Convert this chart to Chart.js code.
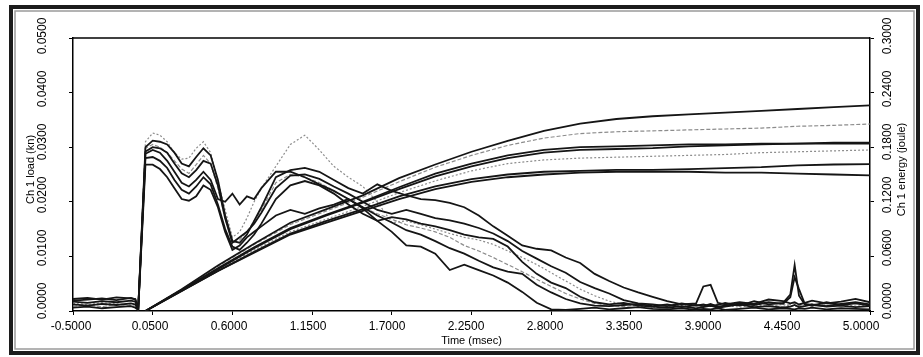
<!DOCTYPE html>
<html>
<head>
<meta charset="utf-8">
<title>Ch 1 load / energy</title>
<script src="https://cdn.jsdelivr.net/npm/chart.js@4.4.1/dist/chart.umd.min.js"></script>
<style>
    html, body { margin: 0; padding: 0; background: #fff; }
    #contenedor { width: 923px; height: 357px; }
</style>
</head>
<body>
<div id="contenedor"><canvas id="graficoImpacto" width="923" height="357"></canvas></div>
<script>
// Base de tiempo del canal de carga (msec)
const tiempoCarga = [
    -0.5, -0.4, -0.3, -0.2, -0.1, -0.07, -0.05, 0.0,
    0.05, 0.1, 0.15, 0.2, 0.25, 0.3, 0.35, 0.4, 0.45, 0.5, 0.55, 0.6, 0.65, 0.7, 0.75, 0.8,
    0.9, 1.0, 1.1, 1.2, 1.3, 1.4, 1.5, 1.6, 1.7, 1.8, 1.9, 2.0,
    2.1, 2.2, 2.3, 2.4, 2.5, 2.6, 2.7, 2.8, 2.9, 3.0, 3.1, 3.2, 3.3, 3.4, 3.5,
    3.6, 3.7, 3.8, 3.85, 3.9, 3.95, 4.0, 4.1, 4.2, 4.3, 4.4, 4.45, 4.48, 4.51, 4.55, 4.6, 4.7, 4.8, 4.9, 5.0
];

// Carga (kn) de cada ensayo
const carga1 = [
    0.0022, 0.0024, 0.0021, 0.0025, 0.0023, 0.0022, 0.0004, 0.0300,
    0.0312, 0.0310, 0.0305, 0.0290, 0.0270, 0.0265, 0.0282, 0.0298, 0.0285, 0.0240, 0.0175, 0.0128, 0.0125, 0.0140, 0.0165, 0.0190,
    0.0245, 0.0258, 0.0262, 0.0255, 0.0240, 0.0225, 0.0215, 0.0232, 0.0220, 0.0212, 0.0205, 0.0203,
    0.0198, 0.0190, 0.0175, 0.0155, 0.0138, 0.0120, 0.0114, 0.0111, 0.0098, 0.0088, 0.0068, 0.0055, 0.0043, 0.0034, 0.0026,
    0.0018, 0.0012, 0.0014, 0.0045, 0.0048, 0.0015, 0.0012, 0.0016, 0.0013, 0.0021, 0.0018, 0.0014, 0.0016, 0.0012, 0.0015, 0.0019, 0.0014, 0.0017, 0.0022, 0.0016
];
const carga2 = [
    0.0019, 0.0021, 0.0023, 0.0020, 0.0024, 0.0021, 0.0003, 0.0292,
    0.0300, 0.0298, 0.0290, 0.0270, 0.0252, 0.0245, 0.0258, 0.0275, 0.0270, 0.0230, 0.0170, 0.0125, 0.0135, 0.0145, 0.0160, 0.0180,
    0.0225, 0.0248, 0.0250, 0.0242, 0.0228, 0.0215, 0.0200, 0.0185, 0.0178, 0.0185, 0.0178, 0.0170,
    0.0166, 0.0160, 0.0152, 0.0142, 0.0128, 0.0110, 0.0096, 0.0082, 0.0070, 0.0053, 0.0042, 0.0032, 0.0020, 0.0014, 0.0012,
    0.0009, 0.0014, 0.0010, 0.0012, 0.0009, 0.0011, 0.0015, 0.0010, 0.0018, 0.0012, 0.0015, 0.0030, 0.0084, 0.0028, 0.0012, 0.0010, 0.0016, 0.0011, 0.0014, 0.0010
];
const carga3 = [
    0.0012, 0.0010, 0.0013, 0.0011, 0.0014, 0.0012, 0.0002, 0.0280,
    0.0282, 0.0275, 0.0262, 0.0240, 0.0222, 0.0215, 0.0228, 0.0245, 0.0232, 0.0195, 0.0150, 0.0118, 0.0112, 0.0125, 0.0140, 0.0160,
    0.0205, 0.0230, 0.0238, 0.0230, 0.0215, 0.0195, 0.0178, 0.0165, 0.0172, 0.0168, 0.0160, 0.0155,
    0.0148, 0.0140, 0.0135, 0.0132, 0.0118, 0.0090, 0.0068, 0.0052, 0.0042, 0.0026, 0.0016, 0.0012, 0.0015, 0.0010, 0.0008,
    0.0006, 0.0009, 0.0005, 0.0007, 0.0010, 0.0006, 0.0008, 0.0012, 0.0007, 0.0009, 0.0006, 0.0008, 0.0011, 0.0007, 0.0009, 0.0012, 0.0008, 0.0010, 0.0007, 0.0009
];
const carga4 = [
    0.0017, 0.0015, 0.0018, 0.0016, 0.0019, 0.0017, 0.0003, 0.0288,
    0.0295, 0.0290, 0.0275, 0.0255, 0.0235, 0.0228, 0.0240, 0.0255, 0.0240, 0.0205, 0.0200, 0.0215, 0.0195, 0.0210, 0.0205, 0.0225,
    0.0255, 0.0255, 0.0245, 0.0232, 0.0220, 0.0205, 0.0190, 0.0175, 0.0162, 0.0148, 0.0140, 0.0128,
    0.0115, 0.0105, 0.0092, 0.0080, 0.0072, 0.0068, 0.0048, 0.0034, 0.0022, 0.0014, 0.0010, 0.0009, 0.0011, 0.0013, 0.0009,
    0.0012, 0.0007, 0.0011, 0.0009, 0.0013, 0.0008, 0.0010, 0.0014, 0.0011, 0.0016, 0.0013, 0.0025, 0.0062, 0.0040, 0.0013, 0.0011, 0.0009, 0.0013, 0.0016, 0.0012
];
const carga5 = [
    0.0006, 0.0008, 0.0005, 0.0007, 0.0009, 0.0006, 0.0002, 0.0268,
    0.0268, 0.0260, 0.0245, 0.0225, 0.0205, 0.0202, 0.0210, 0.0230, 0.0222, 0.0190, 0.0145, 0.0112, 0.0120, 0.0135, 0.0145, 0.0155,
    0.0175, 0.0185, 0.0178, 0.0188, 0.0195, 0.0205, 0.0188, 0.0165, 0.0145, 0.0120, 0.0118, 0.0105,
    0.0075, 0.0085, 0.0075, 0.0065, 0.0052, 0.0035, 0.0015, 0.0003, 0.0002, 0.0004, 0.0006, 0.0003, 0.0005, 0.0007, 0.0004,
    0.0003, 0.0005, 0.0002, 0.0004, 0.0003, 0.0005, 0.0002, 0.0004, 0.0006, 0.0003, 0.0005, 0.0004, 0.0003, 0.0005, 0.0004, 0.0006, 0.0003, 0.0005, 0.0004, 0.0003
];
const carga6 = [
    0.0014, 0.0012, 0.0015, 0.0013, 0.0011, 0.0013, 0.0003, 0.0310,
    0.0326, 0.0322, 0.0310, 0.0290, 0.0278, 0.0280, 0.0298, 0.0310, 0.0290, 0.0240, 0.0185, 0.0135, 0.0145, 0.0170, 0.0200, 0.0225,
    0.0265, 0.0305, 0.0322, 0.0295, 0.0265, 0.0245, 0.0228, 0.0200, 0.0162, 0.0165, 0.0158, 0.0150,
    0.0142, 0.0135, 0.0130, 0.0122, 0.0110, 0.0098, 0.0085, 0.0070, 0.0055, 0.0040, 0.0028, 0.0018, 0.0012, 0.0009, 0.0007,
    0.0008, 0.0011, 0.0006, 0.0009, 0.0012, 0.0008, 0.0010, 0.0007, 0.0011, 0.0009, 0.0012, 0.0010, 0.0008, 0.0011, 0.0009, 0.0013, 0.0010, 0.0012, 0.0009, 0.0011
];
const carga7 = [
    0.0009, 0.0011, 0.0008, 0.0012, 0.0010, 0.0009, 0.0002, 0.0298,
    0.0305, 0.0300, 0.0290, 0.0275, 0.0260, 0.0252, 0.0268, 0.0285, 0.0270, 0.0225, 0.0170, 0.0125, 0.0130, 0.0145, 0.0165, 0.0185,
    0.0235, 0.0250, 0.0245, 0.0235, 0.0220, 0.0205, 0.0190, 0.0178, 0.0168, 0.0158, 0.0152, 0.0145,
    0.0135, 0.0120, 0.0110, 0.0098, 0.0085, 0.0072, 0.0058, 0.0045, 0.0032, 0.0022, 0.0014, 0.0010, 0.0008, 0.0011, 0.0006,
    0.0010, 0.0007, 0.0012, 0.0008, 0.0010, 0.0013, 0.0009, 0.0011, 0.0014, 0.0010, 0.0008, 0.0012, 0.0015, 0.0010, 0.0012, 0.0009, 0.0013, 0.0011, 0.0015, 0.0012
];

// Base de tiempo del canal de energia (msec)
const tiempoEnergia = [0, 0.25, 0.5, 0.75, 1.0, 1.25, 1.5, 1.75, 2.0, 2.25, 2.5, 2.75, 3.0, 3.25, 3.5, 3.75, 4.0, 4.25, 4.5, 4.75, 5.0];

// Energia (joule) de cada ensayo
const energia1 = [0, 0.024, 0.050, 0.074, 0.097, 0.112, 0.127, 0.146, 0.161, 0.175, 0.187, 0.198, 0.206, 0.211, 0.214, 0.216, 0.218, 0.220, 0.222, 0.224, 0.226];
const energia2 = [0, 0.024, 0.049, 0.073, 0.095, 0.110, 0.125, 0.142, 0.158, 0.171, 0.182, 0.190, 0.195, 0.197, 0.198, 0.199, 0.200, 0.201, 0.203, 0.204, 0.2055];
const energia3 = [0, 0.023, 0.047, 0.070, 0.091, 0.106, 0.120, 0.136, 0.151, 0.162, 0.171, 0.177, 0.180, 0.181, 0.182, 0.183, 0.183, 0.184, 0.184, 0.185, 0.185];
const energia4 = [0, 0.023, 0.046, 0.069, 0.090, 0.105, 0.119, 0.134, 0.148, 0.159, 0.168, 0.174, 0.177, 0.178, 0.179, 0.181, 0.182, 0.183, 0.184, 0.184, 0.184];
const energia5 = [0, 0.022, 0.045, 0.067, 0.087, 0.101, 0.115, 0.130, 0.143, 0.154, 0.162, 0.166, 0.168, 0.169, 0.170, 0.171, 0.172, 0.174, 0.175, 0.176, 0.177];
const energia6 = [0, 0.022, 0.044, 0.065, 0.085, 0.099, 0.112, 0.126, 0.137, 0.145, 0.150, 0.153, 0.154, 0.155, 0.155, 0.156, 0.157, 0.158, 0.160, 0.161, 0.1615];
const energia7 = [0, 0.022, 0.044, 0.064, 0.084, 0.097, 0.110, 0.123, 0.134, 0.142, 0.147, 0.150, 0.152, 0.153, 0.153, 0.153, 0.152, 0.152, 0.151, 0.150, 0.149];

// Marcas de los ejes
const ticksTiempo = [-0.5, 0.05, 0.6, 1.15, 1.7, 2.25, 2.8, 3.35, 3.9, 4.45, 5.0];
const ticksCarga = [0, 0.01, 0.02, 0.03, 0.04, 0.05];
const ticksEnergia = [0, 0.06, 0.12, 0.18, 0.24, 0.3];

const FUENTE = '"Liberation Sans", Arial, sans-serif';
const NEGRO = '#151515';
const GRIS = '#8c8c8c';

// Unir tiempos y valores en puntos {x, y}
function puntos(tiempos, valores) {
    return tiempos.map((t, i) => ({ x: t, y: valores[i] }));
}

function serie(tiempos, valores, eje, gris, discontinua) {
    return {
        data: puntos(tiempos, valores),
        yAxisID: eje,
        borderColor: gris ? GRIS : NEGRO,
        borderWidth: gris ? 1.2 : 1.8,
        borderDash: gris ? discontinua : [],
        pointRadius: 0,
        tension: 0,
        fill: false,
        order: gris ? 2 : 1
    };
}

// Marco doble alrededor de la figura y recuadro del area de trazado
const marco = {
    id: 'marco',
    beforeDraw(chart) {
        const ctx = chart.ctx;
        ctx.save();
        ctx.fillStyle = '#fff';
        ctx.fillRect(0, 0, chart.width, chart.height);
        ctx.strokeStyle = '#1c1c1c';
        ctx.lineWidth = 4;
        ctx.strokeRect(11, 7, 907, 346);
        ctx.strokeStyle = '#9a9a9a';
        ctx.lineWidth = 1.5;
        ctx.strokeRect(15, 11, 899, 338);
        ctx.restore();
    },
    afterDraw(chart) {
        const a = chart.chartArea;
        const ctx = chart.ctx;
        ctx.save();
        ctx.strokeStyle = '#000';
        ctx.lineWidth = 1.5;
        ctx.beginPath();
        ctx.moveTo(a.left, a.top);
        ctx.lineTo(a.right, a.top);
        ctx.stroke();
        ctx.restore();
    }
};

// Etiquetas de las marcas: el programa original las reparte un poco
// hacia el origen, asi que se corren segun su posicion en el eje
const etiquetas = {
    id: 'etiquetas',
    afterDraw(chart) {
        const ctx = chart.ctx;
        const ejeX = chart.scales.x;
        const ejeCarga = chart.scales.y;
        const ejeEnergia = chart.scales.y1;
        const vertical = (s, x, y, tam) => {
            ctx.save();
            ctx.translate(x, y);
            ctx.rotate(-Math.PI / 2);
            ctx.font = tam + 'px ' + FUENTE;
            ctx.fillText(s, 0, 0);
            ctx.restore();
        };
        ctx.save();
        ctx.fillStyle = '#000';
        ctx.textAlign = 'center';
        ctx.textBaseline = 'middle';

        ctx.font = '12px ' + FUENTE;
        ticksTiempo.forEach(v => {
            const f = (v - ejeX.min) / (ejeX.max - ejeX.min);
            ctx.fillText(v.toFixed(4), ejeX.getPixelForValue(v) - 2 - 7 * f, 327);
        });
        ticksCarga.forEach(v => {
            const f = v / ejeCarga.max;
            vertical(v.toFixed(4), 43, ejeCarga.getPixelForValue(v) - 2 - 8 * (1 - f), 12);
        });
        ticksEnergia.forEach(v => {
            const f = v / ejeEnergia.max;
            vertical(v.toFixed(4), 888, ejeEnergia.getPixelForValue(v) - 2 - 8 * (1 - f), 12);
        });

        const centro = (chart.chartArea.top + chart.chartArea.bottom) / 2;
        vertical('Ch 1 load (kn)', 31, centro - 5, 11);
        vertical('Ch 1 energy (joule)', 902, centro - 5, 11);
        ctx.restore();
    }
};

function crearGrafico() {
    const ctx = document.getElementById('graficoImpacto');

    const datasets = [
        serie(tiempoCarga, carga1, 'y', false),
        serie(tiempoCarga, carga2, 'y', false),
        serie(tiempoCarga, carga3, 'y', false),
        serie(tiempoCarga, carga4, 'y', false),
        serie(tiempoCarga, carga5, 'y', false),
        serie(tiempoCarga, carga6, 'y', true, [2, 2]),
        serie(tiempoCarga, carga7, 'y', true, [4, 2]),
        serie(tiempoEnergia, energia1, 'y1', false),
        serie(tiempoEnergia, energia2, 'y1', true, [4, 2]),
        serie(tiempoEnergia, energia3, 'y1', false),
        serie(tiempoEnergia, energia4, 'y1', false),
        serie(tiempoEnergia, energia5, 'y1', true, [2, 2]),
        serie(tiempoEnergia, energia6, 'y1', false),
        serie(tiempoEnergia, energia7, 'y1', false)
    ];

    const marcas = {
        drawOnChartArea: false,
        drawTicks: true,
        tickLength: 4,
        tickColor: '#000',
        tickWidth: 1
    };
    const borde = { display: true, color: '#000', width: 1.5 };

    new Chart(ctx, {
        type: 'line',
        data: { datasets: datasets },
        options: {
            responsive: false,
            animation: false,
            layout: { padding: { top: 38, left: 0, right: 0, bottom: 0 } },
            plugins: {
                legend: { display: false },
                tooltip: { enabled: false }
            },
            scales: {
                x: {
                    type: 'linear',
                    min: -0.5,
                    max: 5.0,
                    afterBuildTicks: (eje) => { eje.ticks = ticksTiempo.map(v => ({ value: v })); },
                    afterFit: (eje) => { eje.height = 46; },
                    grid: marcas,
                    border: borde,
                    ticks: { display: false },
                    title: {
                        display: true,
                        text: 'Time (msec)',
                        color: '#000',
                        font: { family: FUENTE, size: 11 },
                        padding: { top: 0, bottom: 9 }
                    }
                },
                y: {
                    type: 'linear',
                    position: 'left',
                    min: 0,
                    max: 0.05,
                    afterBuildTicks: (eje) => { eje.ticks = ticksCarga.map(v => ({ value: v })); },
                    afterFit: (eje) => { eje.width = 73; },
                    grid: marcas,
                    border: borde,
                    ticks: { display: false }
                },
                y1: {
                    type: 'linear',
                    position: 'right',
                    min: 0,
                    max: 0.3,
                    afterBuildTicks: (eje) => { eje.ticks = ticksEnergia.map(v => ({ value: v })); },
                    afterFit: (eje) => { eje.width = 53; },
                    grid: marcas,
                    border: borde,
                    ticks: { display: false }
                }
            }
        },
        plugins: [marco, etiquetas]
    });
}

crearGrafico();
</script>
</body>
</html>
